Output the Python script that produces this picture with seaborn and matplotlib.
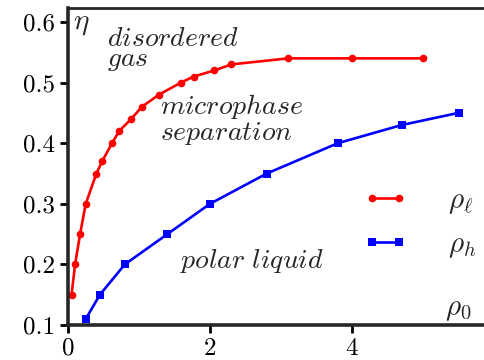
import matplotlib
matplotlib.use("Agg")
import matplotlib.pyplot as plt
import seaborn as sns

# Binodal densities versus mean density rho_0
rho0_low = [0.05, 0.1, 0.17, 0.25, 0.4, 0.48, 0.62, 0.72, 0.89, 1.04, 1.28,
            1.59, 1.77, 2.06, 2.3, 3.1, 4.0, 5.0]
eta_low = [0.15, 0.20, 0.25, 0.30, 0.35, 0.37, 0.40, 0.42, 0.44, 0.46, 0.48,
           0.50, 0.51, 0.52, 0.53, 0.54, 0.54, 0.54]

rho0_high = [0.25, 0.45, 0.8, 1.4, 2.0, 2.8, 3.8, 4.7, 5.5]
eta_high = [0.11, 0.15, 0.20, 0.25, 0.30, 0.35, 0.40, 0.43, 0.45]

x_ticks = [0, 2, 4]
y_ticks = [0.1, 0.2, 0.3, 0.4, 0.5, 0.6]

sns.set_style("ticks")
plt.rcParams["font.family"] = ["cmr10", "DejaVu Serif"]
plt.rcParams["mathtext.fontset"] = "cm"
plt.rcParams["axes.formatter.use_mathtext"] = True

W, H = 484, 360
fig = plt.figure(figsize=(W / 100, H / 100), dpi=100)
ax = fig.add_axes([68 / W, (H - 325) / H, (W - 68) / W, (325 - 8) / H])

sns.lineplot(x=rho0_low, y=eta_low, ax=ax, color="#ff0000", marker="o",
             markersize=5.5, markeredgewidth=0, linewidth=1.9,
             label=r"$\rho_\ell$")
sns.lineplot(x=rho0_high, y=eta_high, ax=ax, color="#0000ff", marker="s",
             markersize=5.5, markeredgewidth=0, linewidth=1.9,
             label=r"$\rho_h$")

ax.set_xlim(0, (W - 68) / 71)
ax.set_ylim(0.1, 0.1 + (325 - 8) / 606)
ax.set_xticks(x_ticks)
ax.set_yticks(y_ticks)
ax.set_xticklabels([str(v) for v in x_ticks])
ax.set_yticklabels([f"{v:.1f}" for v in y_ticks])
ax.tick_params(direction="out", length=6, width=2, labelsize=18, pad=3,
               colors="black")
for side in ["left", "bottom"]:
    ax.spines[side].set_linewidth(2.6)
ax.spines["top"].set_linewidth(2.0)
ax.spines["right"].set_visible(False)
ax.set_xlabel("")
ax.set_ylabel("")

# Axis symbols inside the frame
ax.text(0.07, 0.618, r"$\eta$", fontsize=21, va="top", ha="left")
ax.text(5.31, 0.1165, r"$\rho_0$", fontsize=21, va="baseline", ha="left")

# Phase labels (two-line labels are anchored at the baseline of the last line)
phase_fs = 20
ax.text(0.55, 0.527, r"$\mathit{disordered}$" + "\n" + r"$\mathit{gas}$",
        fontsize=phase_fs, va="baseline", ha="left", linespacing=0.72)
ax.text(1.30, 0.405, r"$\mathit{microphase}$" + "\n" + r"$\mathit{separation}$",
        fontsize=phase_fs, va="baseline", ha="left", linespacing=0.92)
ax.text(1.58, 0.194, r"$\mathit{polar\ liquid}$", fontsize=phase_fs,
        va="baseline", ha="left")

leg = ax.legend(loc="center left", bbox_to_anchor=((367 - 68 - 4) / (W - 68),
                (325 - 224) / 317), frameon=False, fontsize=21, numpoints=2,
                handlelength=1.55, handletextpad=1.35, labelspacing=0.55,
                borderpad=0, borderaxespad=0)

fig.savefig("out.png", dpi=100)
